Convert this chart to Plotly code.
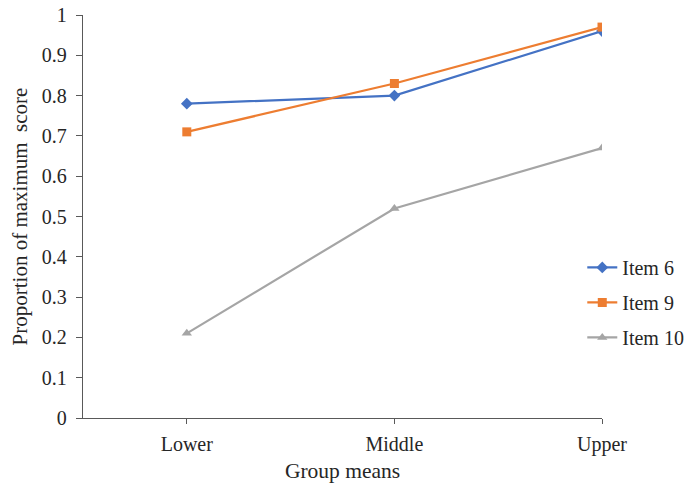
import plotly.graph_objects as go

categories = ["Lower", "Middle", "Upper"]
item6 = [0.78, 0.80, 0.96]
item9 = [0.71, 0.83, 0.97]
item10 = [0.21, 0.52, 0.67]
series_names = ["Item 6", "Item 9", "Item 10"]
y_ticks = [0, 0.1, 0.2, 0.3, 0.4, 0.5, 0.6, 0.7, 0.8, 0.9, 1]
y_tick_labels = ["0", "0.1", "0.2", "0.3", "0.4", "0.5", "0.6", "0.7", "0.8", "0.9", "1"]

colors = ["#4472C4", "#ED7D31", "#A5A5A5"]
symbols = ["diamond", "square", "triangle-up"]
sizes = [9, 9, 9]

font_family = "Liberation Serif"

fig = go.Figure()
for name, vals, c, s, sz in zip(series_names, [item6, item9, item10], colors, symbols, sizes):
    fig.add_trace(go.Scatter(
        x=[0, 1, 2], y=vals, name=name, mode="lines+markers",
        line=dict(color=c, width=2.2),
        marker=dict(symbol=s, size=sz, color=c),
        legendgroup=name,
    ))

fig.update_layout(
    width=688, height=488,
    margin=dict(l=83, r=86, t=15, b=70, autoexpand=False),
    paper_bgcolor="white", plot_bgcolor="white",
    font=dict(family=font_family, size=20, color="#262626"),
    showlegend=True,
    legend=dict(x=0.962, y=0.422, xanchor="left", yanchor="top",
                font=dict(size=20, color="#262626"),
                tracegroupgap=6, bgcolor="rgba(0,0,0,0)",
                itemwidth=30),
    xaxis=dict(
        range=[-0.5, 2], tickvals=[0, 1, 2], ticktext=categories,
        showgrid=False, zeroline=False, showline=True, linecolor="#595959", linewidth=1.3,
        ticks="outside", ticklen=5, tickcolor="#595959", automargin=False,
        ticklabelstandoff=3,
        title=dict(text="Group means", font=dict(size=21.5), standoff=7),
        tickfont=dict(size=20),
    ),
    yaxis=dict(
        range=[0, 1], tickvals=y_ticks, ticktext=y_tick_labels,
        showgrid=False, zeroline=False, showline=True, linecolor="#595959", linewidth=1.3,
        ticks="outside", ticklen=6, tickcolor="#595959", automargin=False,
        ticklabelstandoff=5,
        title=dict(text="Proportion of maximum  score", font=dict(size=21), standoff=8),
        tickfont=dict(size=20),
    ),
)

fig.write_html("out.html", config={"displayModeBar": False},
               post_script="document.body.style.margin='0';document.body.style.overflow='hidden';")
